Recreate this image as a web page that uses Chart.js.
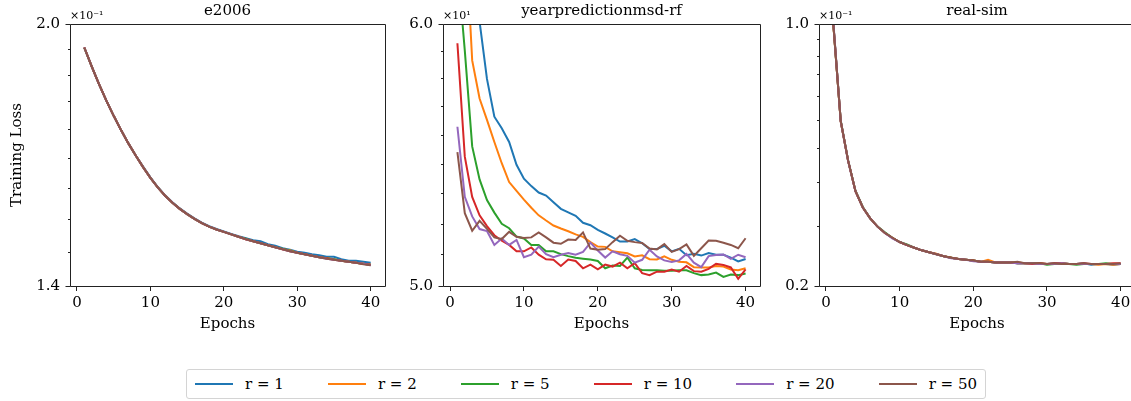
<!DOCTYPE html>
<html>
<head>
<meta charset="utf-8">
<script src="https://cdn.jsdelivr.net/npm/chart.js@4.4.1/dist/chart.umd.min.js"></script>
<style>
  html, body { margin: 0; padding: 0; background: #fff; width: 1131px; height: 401px; overflow: hidden; position: relative; }
  .panel { position: absolute; top: 0; height: 340px; }
  #legend {
    position: absolute; left: 186px; top: 369px; width: 800px; height: 30px;
    box-sizing: border-box; border: 1px solid #d4d4d4; border-radius: 3px;
    display: flex; align-items: center; justify-content: space-between;
    padding: 0 8px 0 8px; font-family: "DejaVu Serif", serif; font-size: 15px; color: #000;
  }
  .item { display: flex; align-items: center; white-space: pre; }
  .swatch { width: 38px; height: 2px; margin-right: 12px; }
</style>
</head>
<body>
<div class="panel" style="left:0px;width:395px;"><canvas id="c1"></canvas></div>
<div class="panel" style="left:395px;width:375px;"><canvas id="c2"></canvas></div>
<div class="panel" style="left:770px;width:375px;"><canvas id="c3"></canvas></div>
<div id="legend"></div>
<script>
// ---- data ----
const epochs = [1,2,3,4,5,6,7,8,9,10,11,12,13,14,15,16,17,18,19,20,
                21,22,23,24,25,26,27,28,29,30,31,32,33,34,35,36,37,38,39,40];

const seriesLabels = ['r = 1', 'r = 2', 'r = 5', 'r = 10', 'r = 20', 'r = 50'];
const seriesColors = ['#1f77b4', '#ff7f0e', '#2ca02c', '#d62728', '#9467bd', '#8c564b'];

const xTicks = [0, 10, 20, 30, 40];
const xTickLabels = ['0', '10', '20', '30', '40'];

// e2006
const e2006_r1  = [0.1937,0.1888,0.1843,0.1802,0.1765,0.1731,0.1700,0.1672,0.1647,0.1623,0.1602,0.1584,0.1569,0.1556,0.1545,0.1535,0.1526,0.1519,0.1513,0.1508,0.1503,0.1498,0.1494,0.1490,0.1488,0.1482,0.1479,0.1474,0.1471,0.1467,0.1465,0.1462,0.1460,0.1457,0.1457,0.1452,0.1449,0.1449,0.1447,0.1445];
const e2006_r2  = [0.1937,0.1888,0.1843,0.1802,0.1765,0.1731,0.1700,0.1672,0.1646,0.1622,0.1601,0.1583,0.1568,0.1555,0.1544,0.1534,0.1525,0.1518,0.1512,0.1507,0.1502,0.1497,0.1492,0.1488,0.1484,0.1480,0.1476,0.1472,0.1470,0.1465,0.1462,0.1459,0.1456,0.1454,0.1452,0.1449,0.1447,0.1445,0.1443,0.1441];
const e2006_r5  = [0.1936,0.1888,0.1843,0.1802,0.1765,0.1731,0.1700,0.1672,0.1646,0.1622,0.1601,0.1583,0.1568,0.1555,0.1544,0.1534,0.1525,0.1518,0.1512,0.1507,0.1502,0.1497,0.1493,0.1488,0.1484,0.1480,0.1476,0.1473,0.1469,0.1465,0.1462,0.1459,0.1456,0.1454,0.1452,0.1449,0.1447,0.1445,0.1443,0.1441];
const e2006_r10 = [0.1937,0.1888,0.1843,0.1802,0.1765,0.1731,0.1700,0.1672,0.1646,0.1622,0.1601,0.1583,0.1568,0.1555,0.1544,0.1534,0.1525,0.1518,0.1512,0.1507,0.1502,0.1497,0.1492,0.1488,0.1484,0.1480,0.1476,0.1472,0.1468,0.1465,0.1462,0.1459,0.1456,0.1454,0.1451,0.1449,0.1447,0.1445,0.1443,0.1441];
const e2006_r20 = [0.1937,0.1888,0.1843,0.1802,0.1765,0.1731,0.1700,0.1672,0.1646,0.1622,0.1601,0.1583,0.1568,0.1555,0.1544,0.1534,0.1525,0.1518,0.1512,0.1507,0.1502,0.1497,0.1492,0.1488,0.1484,0.1480,0.1476,0.1472,0.1468,0.1465,0.1462,0.1459,0.1456,0.1453,0.1451,0.1449,0.1447,0.1445,0.1443,0.1440];
const e2006_r50 = [0.1937,0.1888,0.1843,0.1802,0.1765,0.1731,0.1700,0.1672,0.1646,0.1622,0.1601,0.1583,0.1568,0.1555,0.1544,0.1534,0.1525,0.1518,0.1512,0.1507,0.1502,0.1497,0.1492,0.1488,0.1484,0.1480,0.1476,0.1472,0.1468,0.1465,0.1462,0.1459,0.1456,0.1453,0.1451,0.1449,0.1447,0.1445,0.1442,0.1440];

// yearpredictionmsd-rf
const ymsd_r1  = [75.0,68.0,63.5,60.1,57.75,56.25,55.8,55.27,54.4,53.88,53.6,53.36,53.25,53.0,52.76,52.63,52.5,52.25,52.16,51.99,51.86,51.72,51.57,51.57,51.66,51.51,51.3,51.3,51.42,51.22,51.31,51.08,51.13,51.07,51.16,51.1,51.1,51.0,50.86,50.95];
const ymsd_r2  = [72.0,64.5,58.5,56.97,56.13,55.27,54.46,53.75,53.42,53.1,52.8,52.52,52.33,52.15,52.04,51.94,51.83,51.74,51.55,51.39,51.38,51.22,51.19,51.15,51.04,51.08,50.94,50.93,51.04,50.92,50.85,50.83,50.66,50.65,50.65,50.7,50.68,50.58,50.55,50.62];
const ymsd_r5  = [62.6,58.9,55.1,53.85,53.08,52.62,52.21,52.05,51.75,51.68,51.45,51.45,51.22,51.22,51.12,51.05,50.99,50.96,50.93,50.88,50.62,50.72,50.70,51.0,50.62,50.56,50.55,50.55,50.53,50.53,50.55,50.55,50.45,50.38,50.4,50.47,50.32,50.4,50.38,50.44];
const ymsd_r10 = [59.2,54.71,53.2,52.52,52.13,51.8,51.6,51.45,51.22,51.22,51.36,51.1,50.94,50.92,50.7,50.93,50.88,50.62,50.75,50.58,50.75,50.68,50.82,50.62,50.8,50.45,50.38,50.5,50.5,50.58,50.5,50.7,50.52,50.5,50.6,50.78,50.74,50.65,50.25,50.58];
const ymsd_r20 = [55.86,53.2,52.48,52.02,51.95,51.45,51.68,51.45,51.63,51.01,51.1,51.39,51.12,51.01,51.1,51.16,51.1,51.2,51.53,51.25,51.0,51.22,51.12,51.06,50.82,50.92,51.28,51.04,50.9,50.84,50.9,51.13,50.82,50.66,51.05,51.09,51.11,50.95,51.1,51.01];
const ymsd_r50 = [54.88,52.6,51.96,52.32,52.03,51.72,51.66,51.92,51.74,51.7,51.72,51.9,51.72,51.53,51.49,51.64,51.63,51.9,51.32,51.28,51.3,51.55,51.78,51.6,51.55,51.52,51.32,51.29,51.48,51.2,51.3,51.47,51.06,51.33,51.61,51.6,51.53,51.45,51.33,51.69];

// real-sim
const rsim_r1  = [0.0998,0.0552,0.0433,0.0358,0.0324,0.0303,0.0288,0.0277,0.0269,0.0262,0.0257,0.0253,0.0249,0.0246,0.0243,0.0240,0.0238,0.0236,0.0235,0.0234,0.0232,0.0232,0.0231,0.0231,0.0231,0.0230,0.0230,0.0230,0.0230,0.0229,0.0230,0.0230,0.0229,0.0229,0.0230,0.0228,0.0229,0.0229,0.0228,0.0229];
const rsim_r2  = [0.0996,0.0550,0.0432,0.0358,0.0324,0.0303,0.0288,0.0277,0.0269,0.0262,0.0257,0.0253,0.0249,0.0246,0.0244,0.0240,0.0238,0.0236,0.0235,0.0234,0.0232,0.0235,0.0231,0.0231,0.0231,0.0231,0.0230,0.0230,0.0230,0.0229,0.0229,0.0230,0.0229,0.0229,0.0229,0.0229,0.0228,0.0229,0.0228,0.0229];
const rsim_r5  = [0.0997,0.0551,0.0432,0.0359,0.0325,0.0303,0.0288,0.0278,0.0269,0.0262,0.0258,0.0253,0.0249,0.0246,0.0243,0.0240,0.0238,0.0236,0.0235,0.0234,0.0232,0.0232,0.0231,0.0231,0.0231,0.0230,0.0230,0.0230,0.0230,0.0228,0.0229,0.0230,0.0229,0.0228,0.0229,0.0229,0.0229,0.0230,0.0229,0.0229];
const rsim_r10 = [0.0996,0.0550,0.0432,0.0358,0.0324,0.0303,0.0288,0.0277,0.0269,0.0262,0.0257,0.0253,0.0249,0.0246,0.0243,0.0240,0.0238,0.0236,0.0235,0.0234,0.0232,0.0232,0.0231,0.0231,0.0231,0.0230,0.0230,0.0229,0.0230,0.0229,0.0230,0.0230,0.0229,0.0229,0.0230,0.0229,0.0229,0.0229,0.0230,0.0230];
const rsim_r20 = [0.1010,0.0550,0.0431,0.0358,0.0324,0.0303,0.0288,0.0277,0.0268,0.0262,0.0257,0.0253,0.0249,0.0246,0.0243,0.0240,0.0237,0.0236,0.0235,0.0233,0.0232,0.0232,0.0231,0.0231,0.0231,0.0230,0.0230,0.0230,0.0229,0.0229,0.0229,0.0230,0.0229,0.0229,0.0229,0.0229,0.0229,0.0229,0.0229,0.0229];
const rsim_r50 = [0.0999,0.0551,0.0432,0.0358,0.0324,0.0303,0.0288,0.0277,0.0269,0.0262,0.0257,0.0253,0.0249,0.0246,0.0243,0.0240,0.0238,0.0236,0.0235,0.0234,0.0232,0.0232,0.0231,0.0231,0.0231,0.0232,0.0230,0.0230,0.0230,0.0229,0.0230,0.0229,0.0229,0.0229,0.0230,0.0229,0.0229,0.0229,0.0229,0.0230];

// y-axis ticks (log axis, evenly spaced values) and their labels
const yTicksE2006 = [0.14,0.146667,0.153333,0.16,0.166667,0.173333,0.18,0.186667,0.193333,0.20];
const yLabelsE2006 = ['1.4','','','','','','','','','2.0'];
const yTicksYmsd = [50,51.1111,52.2222,53.3333,54.4444,55.5556,56.6667,57.7778,58.8889,60];
const yLabelsYmsd = ['5.0','','','','','','','','','6.0'];
const yTicksRsim = [0.02,0.028889,0.037778,0.046667,0.055556,0.064444,0.073333,0.082222,0.091111,0.10];
const yLabelsRsim = ['0.2','','','','','','','','','1.0'];

// ---- drawing ----
const FONT = '"DejaVu Serif", serif';
Chart.defaults.font.family = FONT;
Chart.defaults.font.size = 15;
Chart.defaults.color = '#000';

// axes frame, y tick marks and the scale multiplier text
const framePlugin = {
  id: 'frame',
  afterDatasetsDraw(chart, args, opts) {
    const { ctx, chartArea: a, scales: { y } } = chart;
    ctx.save();
    ctx.strokeStyle = '#222';
    ctx.lineWidth = 1;
    const L = Math.round(a.left) + 0.5, T = Math.round(a.top) + 0.5;
    const R = Math.round(a.right) + 0.5, B = Math.round(a.bottom) + 0.5;
    ctx.beginPath();
    ctx.moveTo(L, T); ctx.lineTo(R, T); ctx.lineTo(R, B); ctx.lineTo(L, B); ctx.closePath();
    ctx.stroke();
    const n = y.ticks.length;
    y.ticks.forEach((t, i) => {
      const py = Math.round(y.getPixelForValue(t.value)) + 0.5;
      const len = (i === 0 || i === n - 1) ? 5 : 2.5;
      ctx.beginPath(); ctx.moveTo(L - len, py); ctx.lineTo(L, py); ctx.stroke();
    });
    ctx.fillStyle = '#000';
    ctx.font = '11px ' + FONT;
    ctx.textAlign = 'left';
    ctx.textBaseline = 'alphabetic';
    ctx.fillText(opts.text, a.left, a.top - 5);
    ctx.restore();
  }
};

function buildPanel(id, title, seriesSet, yTicks, yLabels, multiplier, yTitle, yWidth) {
  const last = seriesSet.length - 1;
  return new Chart(document.getElementById(id), {
    type: 'line',
    data: {
      datasets: seriesSet.map((vals, k) => ({
        label: seriesLabels[k],
        data: epochs.map((e, i) => ({ x: e, y: vals[i] })),
        borderColor: seriesColors[k],
        backgroundColor: seriesColors[k],
        borderWidth: 2,
        pointRadius: 0,
        tension: 0,
        fill: false,
        order: last - k,          // later series are painted over earlier ones
        xAxisID: 'x',
        yAxisID: 'y'
      }))
    },
    options: {
      responsive: true,
      maintainAspectRatio: false,
      animation: false,
      devicePixelRatio: 1,
      events: [],
      layout: { padding: { left: 0, right: 10, top: 0, bottom: 0 } },
      plugins: {
        legend: { display: false },
        tooltip: { enabled: false },
        title: { display: false },
        frame: { text: multiplier }
      },
      scales: {
        x: {
          type: 'linear', position: 'bottom',
          min: -0.95, max: 41.95,
          afterBuildTicks: s => { s.ticks = xTicks.map(v => ({ value: v })); },
          ticks: { padding: 3, maxRotation: 0, autoSkip: false, color: '#000',
                   callback: (v, i) => xTickLabels[i] },
          grid: { drawOnChartArea: false, drawTicks: true, tickLength: 5, color: '#222' },
          border: { display: false },
          title: { display: true, text: 'Epochs', color: '#000', padding: { top: 0, bottom: 7 } },
          afterFit: s => { s.height = 54; }
        },
        xTop: {
          axis: 'x', type: 'linear', position: 'top',
          min: -0.95, max: 41.95,
          grid: { display: false, drawTicks: false },
          border: { display: false },
          ticks: { display: false },
          title: { display: true, text: title, color: '#000', padding: { top: 2, bottom: 0 } },
          afterFit: s => { s.height = 24; }
        },
        y: {
          type: 'logarithmic', position: 'left',
          min: yTicks[0], max: yTicks[yTicks.length - 1],
          afterBuildTicks: s => { s.ticks = yTicks.map(v => ({ value: v })); },
          ticks: { padding: 10, autoSkip: false, color: '#000',
                   callback: (v, i) => yLabels[i] },
          grid: { display: false, drawTicks: false },
          border: { display: false },
          title: { display: !!yTitle, text: yTitle || '', color: '#000', padding: { top: 8, bottom: 0 } },
          afterFit: s => { s.width = yWidth; }
        }
      }
    },
    plugins: [framePlugin]
  });
}

buildPanel('c1', 'e2006',
  [e2006_r1, e2006_r2, e2006_r5, e2006_r10, e2006_r20, e2006_r50],
  yTicksE2006, yLabelsE2006, '×10⁻¹', 'Training Loss', 70);
buildPanel('c2', 'yearpredictionmsd-rf',
  [ymsd_r1, ymsd_r2, ymsd_r5, ymsd_r10, ymsd_r20, ymsd_r50],
  yTicksYmsd, yLabelsYmsd, '×10¹', null, 48);
buildPanel('c3', 'real-sim',
  [rsim_r1, rsim_r2, rsim_r5, rsim_r10, rsim_r20, rsim_r50],
  yTicksRsim, yLabelsRsim, '×10⁻¹', null, 49);

// shared legend
const legend = document.getElementById('legend');
seriesLabels.forEach((lab, k) => {
  const item = document.createElement('div');
  item.className = 'item';
  const sw = document.createElement('span');
  sw.className = 'swatch';
  sw.style.background = seriesColors[k];
  const tx = document.createElement('span');
  tx.textContent = lab;
  item.appendChild(sw);
  item.appendChild(tx);
  legend.appendChild(item);
});
</script>
</body>
</html>
